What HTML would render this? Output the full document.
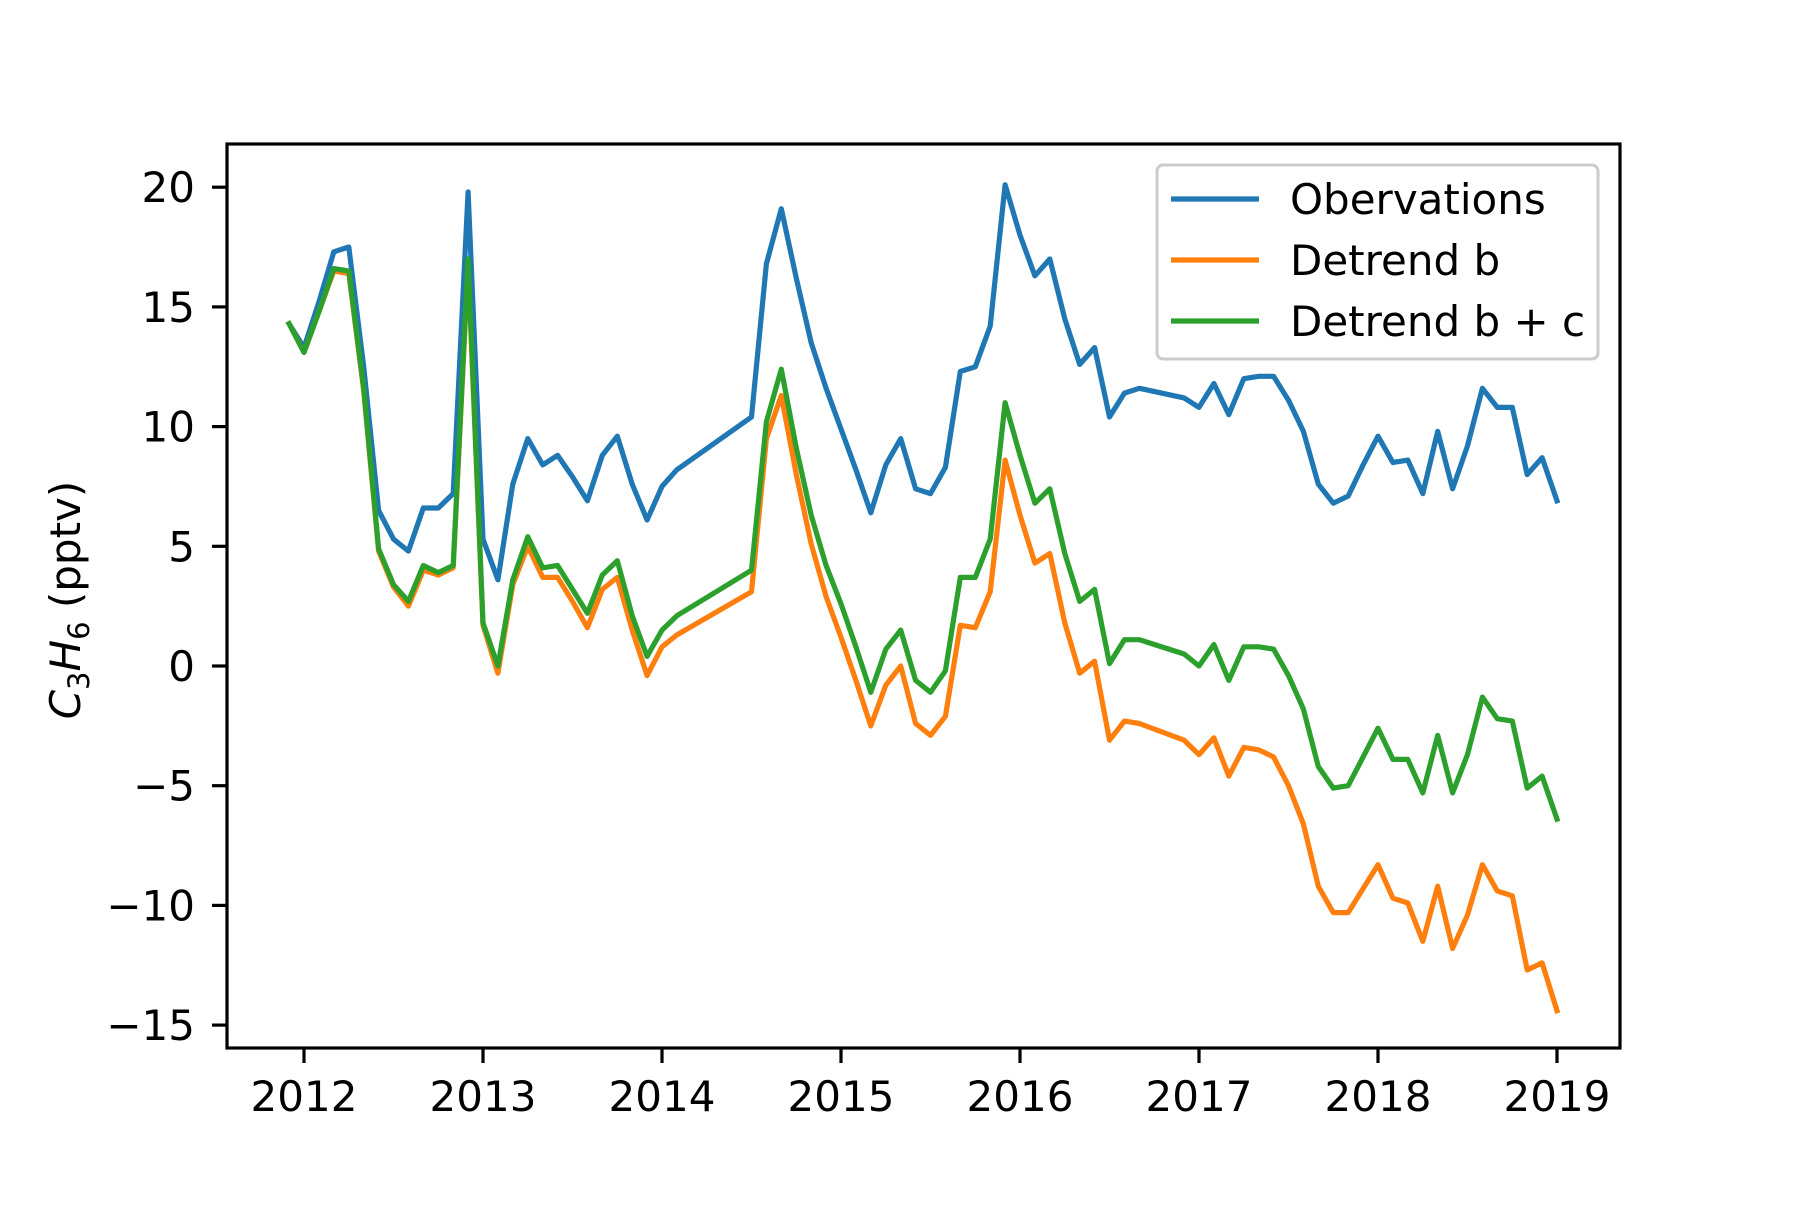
<!DOCTYPE html>
<html><head><meta charset="utf-8"><style>
html,body{margin:0;padding:0;background:#fff}
svg text{font-family:"DejaVu Sans","Liberation Sans",sans-serif;fill:#000}
</style></head><body>
<svg id="chart" width="1800" height="1200" viewBox="0 0 1800 1200" xmlns="http://www.w3.org/2000/svg">
<rect width="1800" height="1200" fill="#fff"/>
<g id="plot"></g>
</svg>
<script>
const xTicks = [2012,2013,2014,2015,2016,2017,2018,2019];
const yTicks = [20,15,10,5,0,-5,-10,-15];
const seriesNames = ["Obervations","Detrend b","Detrend b + c"];
const monthIdx = [0,1,2,3,4,5,6,7,8,9,10,11,12,13,14,15,16,17,18,19,20,21,22,23,24,25,26,31,32,33,34,35,36,37,38,39,40,41,42,43,44,45,46,47,48,49,50,51,52,53,54,55,56,57,60,61,62,63,64,65,66,67,68,69,70,71,72,73,74,75,76,77,78,79,80,81,82,83,84,85];
const obs = [14.3,13.3,15.2,17.3,17.5,12.5,6.5,5.3,4.8,6.6,6.6,7.2,19.8,5.3,3.6,7.6,9.5,8.4,8.8,7.9,6.9,8.8,9.6,7.6,6.1,7.5,8.2,10.4,16.8,19.1,16.2,13.5,11.6,9.9,8.2,6.4,8.4,9.5,7.4,7.2,8.3,12.3,12.5,14.2,20.1,18.0,16.3,17.0,14.5,12.6,13.3,10.4,11.4,11.6,11.2,10.8,11.8,10.5,12.0,12.1,12.1,11.1,9.8,7.6,6.8,7.1,8.4,9.6,8.5,8.6,7.2,9.8,7.4,9.2,11.6,10.8,10.8,8.0,8.7,6.9];
const detB = [14.3,13.1,14.8,16.5,16.4,11.5,4.8,3.3,2.5,4.0,3.8,4.1,16.8,1.7,-0.3,3.4,5.0,3.7,3.7,2.7,1.6,3.2,3.7,1.5,-0.4,0.8,1.3,3.1,9.5,11.3,8.0,5.1,2.9,1.2,-0.6,-2.5,-0.8,0.0,-2.4,-2.9,-2.1,1.7,1.6,3.1,8.6,6.3,4.3,4.7,1.8,-0.3,0.2,-3.1,-2.3,-2.4,-3.1,-3.7,-3.0,-4.6,-3.4,-3.5,-3.8,-5.0,-6.6,-9.2,-10.3,-10.3,-9.3,-8.3,-9.7,-9.9,-11.5,-9.2,-11.8,-10.4,-8.3,-9.4,-9.6,-12.7,-12.4,-14.4];
const detBC = [14.3,13.1,14.8,16.6,16.5,11.6,4.9,3.4,2.7,4.2,3.9,4.2,17.0,1.8,0.0,3.6,5.4,4.1,4.2,3.2,2.2,3.8,4.4,2.1,0.4,1.5,2.1,4.0,10.2,12.4,9.1,6.3,4.2,2.6,0.8,-1.1,0.7,1.5,-0.6,-1.1,-0.2,3.7,3.7,5.3,11.0,8.8,6.8,7.4,4.7,2.7,3.2,0.1,1.1,1.1,0.5,0.0,0.9,-0.6,0.8,0.8,0.7,-0.4,-1.8,-4.2,-5.1,-5.0,-3.8,-2.6,-3.9,-3.9,-5.3,-2.9,-5.3,-3.7,-1.3,-2.2,-2.3,-5.1,-4.6,-6.4];

const L=227,R=1620,T=144,B=1048;
const xs = yr => 304 + (yr-2012)*179;
const ys = v => 666 - v*23.94;
const NS="http://www.w3.org/2000/svg";
const g=document.getElementById('plot');
function el(t,a){const e=document.createElementNS(NS,t);for(const k in a)e.setAttribute(k,a[k]);g.appendChild(e);return e;}
const colors=["#1f77b4","#ff7f0e","#2ca02c"];
[obs,detB,detBC].forEach((s,i)=>{
  const pts=s.map((v,j)=>xs(2011+11/12+monthIdx[j]/12).toFixed(1)+","+ys(v).toFixed(1)).join(" ");
  const p=el('polyline',{points:pts,fill:'none',stroke:colors[i],'stroke-width':5.2,'stroke-linejoin':'round','stroke-linecap':'square'});
  
  
});
const frame=el('rect',{x:L,y:T,width:R-L,height:B-T,fill:'none',stroke:'#000','stroke-width':3.2});


xTicks.forEach(t=>{
  const x=xs(t);
  const tk=el('line',{x1:x,x2:x,y1:B,y2:B+15,stroke:'#000','stroke-width':3.2});
  
  
  const tx=el('text',{x:x,y:1111,'font-size':42,'text-anchor':'middle'});
  tx.textContent=t;
  
  
});
yTicks.forEach(t=>{
  const y=ys(t);
  const tk=el('line',{x1:L-15,x2:L,y1:y,y2:y,stroke:'#000','stroke-width':3.2});
  
  
  const tx=el('text',{x:L-32,y:y+15,'font-size':42,'text-anchor':'end'});
  tx.textContent=(t<0?'\u2212'+(-t):t);
  
  
});
const yl=el('text',{x:0,y:0,'font-size':42,'text-anchor':'middle',transform:'translate(80,600) rotate(-90)'});
yl.innerHTML='<tspan font-style="italic">C</tspan><tspan font-size="29" dy="9">3</tspan><tspan font-style="italic" dy="-9">H</tspan><tspan font-size="29" dy="9">6</tspan><tspan dy="-9"> (pptv)</tspan>';


const lg=el('rect',{x:1157,y:165,width:441,height:194,rx:6,fill:'#fff','fill-opacity':0.8,stroke:'#ccc','stroke-width':3});


seriesNames.forEach((n,i)=>{
  const y=199+i*61;
  const ln=el('line',{x1:1171,x2:1259,y1:y,y2:y,stroke:colors[i],'stroke-width':5.2});
  
  
  const tx=el('text',{x:1290,y:y+15,'font-size':42});
  tx.textContent=n;
  
  
});
</script>
</body></html>
